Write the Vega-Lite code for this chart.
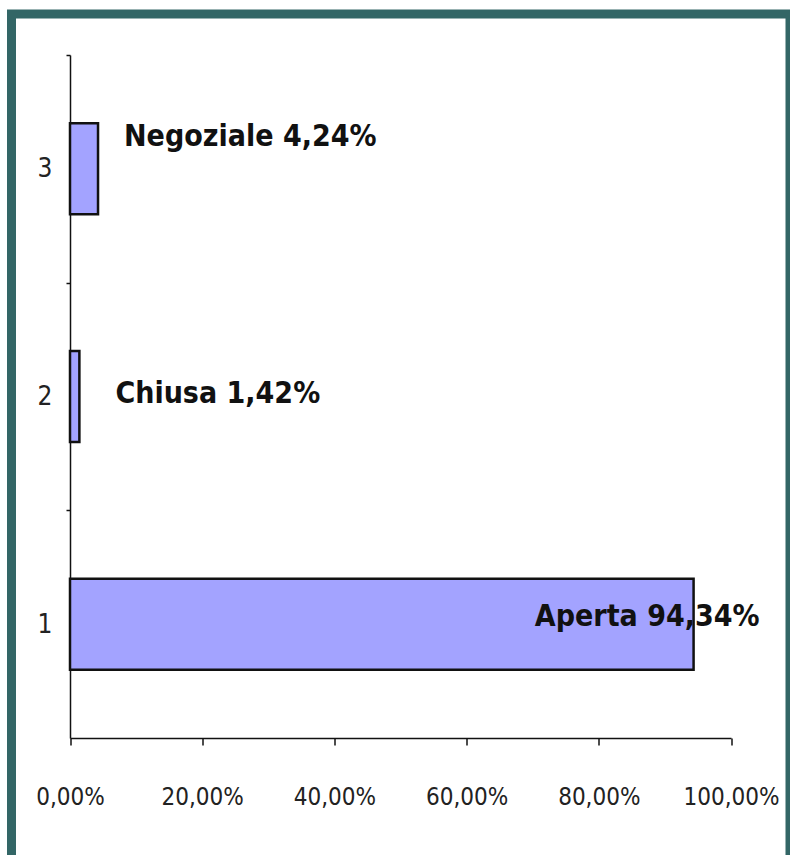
{
  "$schema": "https://vega.github.io/schema/vega-lite/v6.json",
  "autosize": "none",
  "width": 778.5,
  "height": 847,
  "padding": {"left": 11.5, "top": 14, "right": 0, "bottom": -6},
  "background": "white",
  "config": {
    "view": {"stroke": "#336666", "strokeWidth": 9, "fill": "white"},
    "axis": {"grid": false, "domainColor": "#111111", "tickColor": "#111111", "domainWidth": 1.5, "tickWidth": 1.5, "labelColor": "#222222", "labelFont": "DejaVu Sans Condensed, sans-serif", "labelFontSize": 24, "title": null}
  },
  "data": {"values": [
    {"cat": "1", "text": "Aperta 94,34%", "value": 94.34},
    {"cat": "2", "text": "Chiusa 1,42%", "value": 1.42},
    {"cat": "3", "text": "Negoziale 4,24%", "value": 4.24}
  ]},
  "encoding": {
    "y": {"field": "cat", "type": "nominal", "scale": {"domain": ["3", "2", "1"], "range": [41, 724], "paddingInner": 0.6, "paddingOuter": 0.3},
      "axis": {"orient": "left", "offset": -58.5, "tickOffset": -113.83, "labelOffset": 113.83, "tickSize": 4, "labelPadding": 14, "labelAngle": 0, "labelFontSize": 26}},
    "x": {"field": "value", "type": "quantitative", "scale": {"domain": [0, 100], "range": [58.5, 719.5], "nice": false},
      "axis": {"orient": "bottom", "offset": -123, "values": [0, 20, 40, 60, 80, 100], "tickSize": 7, "labelPadding": 40, "labelOverlap": false, "labelFlush": false, "labelBound": false, "labelExpr": "replace(format(datum.value, '.2f'), '.', ',') + '%'"}}
  },
  "layer": [
    {"mark": {"type": "bar", "fill": "#a3a3ff", "stroke": "#111111", "strokeWidth": 2.5}},
    {"transform": [{"filter": "datum.cat == '3'"}],
     "mark": {"type": "text", "align": "left", "baseline": "alphabetic", "dx": 26, "dy": -23, "font": "DejaVu Sans Condensed", "fontWeight": "bold", "fontSize": 30, "color": "#111111"},
     "encoding": {"text": {"field": "text"}}},
    {"transform": [{"filter": "datum.cat == '2'"}],
     "mark": {"type": "text", "align": "left", "baseline": "alphabetic", "dx": 36, "dy": 6, "font": "DejaVu Sans Condensed", "fontWeight": "bold", "fontSize": 30, "color": "#111111"},
     "encoding": {"text": {"field": "text"}}},
    {"transform": [{"filter": "datum.cat == '1'"}],
     "mark": {"type": "text", "align": "right", "baseline": "alphabetic", "dx": 66, "dy": 2, "font": "DejaVu Sans Condensed", "fontWeight": "bold", "fontSize": 30, "color": "#111111"},
     "encoding": {"text": {"field": "text"}}}
  ]
}
